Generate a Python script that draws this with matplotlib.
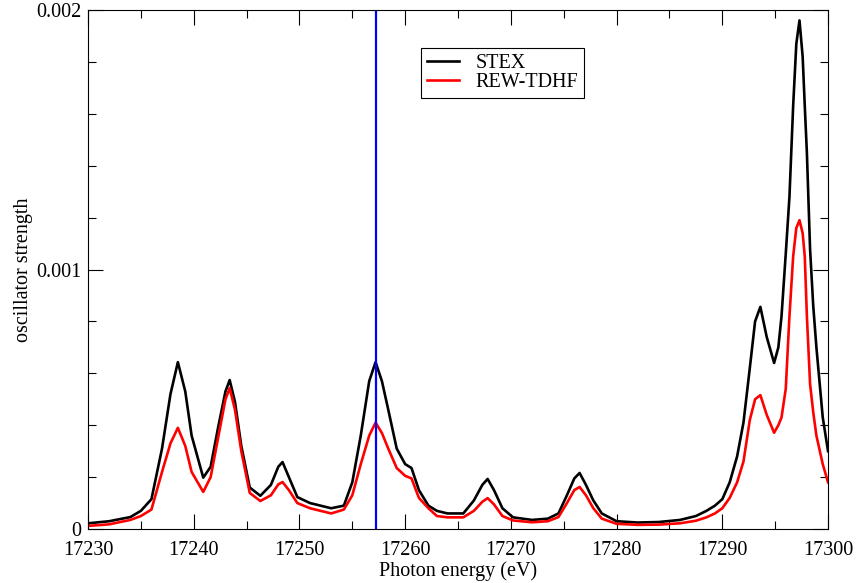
import matplotlib.pyplot as plt
from matplotlib.ticker import MultipleLocator

energy = [17230, 17232, 17234, 17235, 17236, 17237, 17237.8, 17238.5, 17239.2, 17239.8,
          17240.9, 17241.6, 17242.3, 17243, 17243.4, 17243.9, 17244.5, 17245.3, 17246.3, 17247.3,
          17248, 17248.4, 17249, 17249.8, 17251, 17252, 17253, 17254.2, 17255, 17255.8,
          17256.6, 17257.2, 17257.8, 17258.4, 17259.2, 17260, 17260.6, 17261.3, 17262.2, 17263,
          17264, 17265.5, 17266.5, 17267.3, 17267.8, 17268.4, 17269.2, 17270.2, 17272, 17273.5,
          17274.5, 17275.3, 17276, 17276.5, 17277.1, 17277.8, 17278.6, 17280, 17282, 17284,
          17286, 17287.5, 17288.5, 17289.3, 17290, 17290.7, 17291.4, 17292, 17292.6, 17293.1,
          17293.6, 17294.2, 17294.9, 17295.3, 17295.6, 17296.0, 17296.35, 17296.7, 17297.0, 17297.3,
          17297.6, 17297.8, 17298.0, 17298.3, 17298.6, 17298.9, 17299.5, 17300]

stex = [0.000022, 0.000030, 0.000046, 0.000070, 0.000115, 0.00031, 0.00052, 0.000643, 0.00053, 0.00036,
        0.000198, 0.00024, 0.00039, 0.00053, 0.000574, 0.00049, 0.00032, 0.00016, 0.000128, 0.00017,
        0.00024, 0.000258, 0.0002, 0.000123, 0.0001, 0.00009, 0.00008, 0.00009, 0.00018, 0.00036,
        0.00057, 0.000643, 0.00057, 0.00046, 0.00031, 0.00025, 0.000235, 0.00015, 0.00009, 0.00007,
        0.00006, 0.00006, 0.00011, 0.00017, 0.000193, 0.00015, 0.00008, 0.000045, 0.000035, 0.00004,
        0.00006, 0.00013, 0.000195, 0.000216, 0.00017, 0.00011, 0.00006, 0.00003, 0.000025, 0.000027,
        0.000035, 0.00005, 0.00007, 0.00009, 0.000115, 0.00018, 0.00028, 0.00041, 0.00062, 0.00080,
        0.000856, 0.00074, 0.00064, 0.00070, 0.00082, 0.00106, 0.00128, 0.00163, 0.00187, 0.00196,
        0.00182, 0.00163, 0.00145, 0.00108, 0.00086, 0.00070, 0.00043, 0.00030]

rew_tdhf = [0.000012, 0.000018, 0.000035, 0.00005, 0.000075, 0.00022, 0.00033, 0.00039, 0.00032, 0.00022,
            0.000143, 0.0002, 0.00035, 0.0005, 0.000543, 0.00046, 0.0003, 0.000139, 0.000108, 0.00013,
            0.000172, 0.000181, 0.00015, 0.0001, 0.00008, 0.00007, 0.00006, 0.000075, 0.00013, 0.00025,
            0.00036, 0.00041, 0.00037, 0.00031, 0.000235, 0.000205, 0.000195, 0.00012, 0.00008, 0.00005,
            0.000045, 0.000045, 0.00007, 0.000105, 0.000119, 0.000095, 0.00005, 0.000033, 0.000026, 0.00003,
            0.000046, 0.0001, 0.00015, 0.000162, 0.00013, 0.00008, 0.00004, 0.00002, 0.000016, 0.000017,
            0.000022, 0.000032, 0.000045, 0.00006, 0.00008, 0.00012, 0.00018, 0.00026, 0.00042, 0.0005,
            0.000516, 0.00044, 0.000371, 0.0004, 0.00043, 0.00054, 0.00082, 0.00105, 0.00116, 0.00119,
            0.00114, 0.00105, 0.00082, 0.00056, 0.00045, 0.00036, 0.00025, 0.00018]

edge_energy = 17257.2
y_ticks = [0, 0.001, 0.002]
y_tick_labels = ['0', '0.001', '0.002']

plt.rcParams['font.family'] = ['Liberation Serif', 'DejaVu Serif']
fs = 14.5

fig = plt.figure(figsize=(8.57, 5.83), dpi=100)
ax = fig.add_axes([0.1027, 0.0926, 0.8635, 0.8902])

ax.plot(energy, stex, color='black', lw=1.9, label='STEX')
ax.plot(energy, rew_tdhf, color='red', lw=1.9, label='REW-TDHF')
ax.axvline(edge_energy, color='#0000ff', lw=1.6)

ax.set_xlim(17230, 17300)
ax.set_ylim(0, 0.002)
ax.xaxis.set_major_locator(MultipleLocator(10))
ax.xaxis.set_minor_locator(MultipleLocator(5))
ax.set_yticks(y_ticks)
ax.set_yticklabels(y_tick_labels)
ax.yaxis.set_minor_locator(MultipleLocator(0.0002))
ax.tick_params(which='both', direction='in', top=True, right=True, labelsize=fs, width=0.8)
ax.tick_params(which='major', length=11)
ax.tick_params(which='minor', length=5.5)
ax.tick_params(axis='x', which='major', pad=8.5)
ax.tick_params(axis='y', which='major', pad=5)
for s in ax.spines.values():
    s.set_linewidth(0.8)

ax.set_xlabel('Photon energy (eV)', fontsize=fs, labelpad=1)
ax.set_ylabel('oscillator strength', fontsize=fs, labelpad=2)

leg = ax.legend(loc='upper left', bbox_to_anchor=(0.45, 0.927), fontsize=fs,
                fancybox=False, framealpha=1, edgecolor='black', handlelength=1.6,
                borderpad=0.3, labelspacing=0.0, handletextpad=0.8, borderaxespad=0)
leg.get_frame().set_linewidth(0.8)

plt.savefig('out.png', dpi=100)
